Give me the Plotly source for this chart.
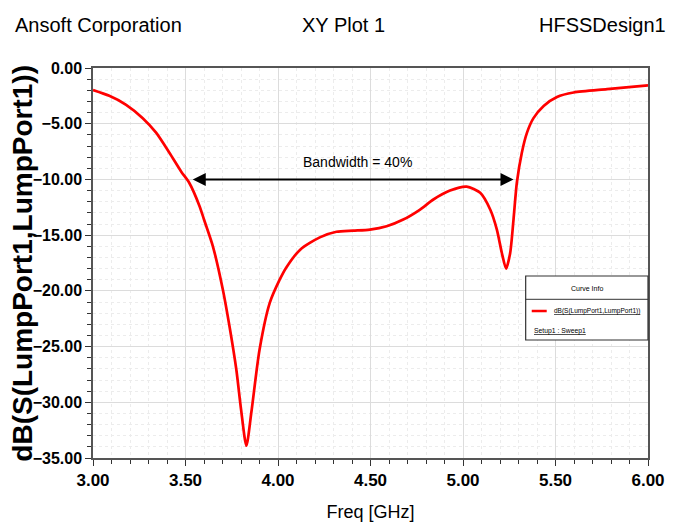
import plotly.graph_objects as go

# ---- data ----
freq_ghz = [3.000, 3.088, 3.179, 3.269, 3.341, 3.413, 3.477, 3.520, 3.576, 3.600,
            3.648, 3.702, 3.738, 3.775, 3.800, 3.829, 3.856, 3.900, 3.955, 4.009,
            4.045, 4.120, 4.226, 4.316, 4.406, 4.497, 4.587, 4.677, 4.768, 4.840,
            4.930, 5.020, 5.093, 5.147, 5.183, 5.210, 5.233, 5.255, 5.273, 5.291,
            5.318, 5.346, 5.381, 5.436, 5.508, 5.598, 5.779, 6.000]
s11_db = [-1.98, -2.5, -3.3, -4.5, -5.8, -7.6, -9.3, -10.3, -12.4, -13.6,
          -16.0, -19.9, -23.2, -27.1, -30.6, -33.9, -30.9, -25.3, -21.1, -19.0,
          -17.9, -16.3, -15.2, -14.7, -14.6, -14.5, -14.2, -13.6, -12.7, -11.8,
          -11.0, -10.65, -11.2, -12.7, -14.5, -16.6, -18.0, -16.6, -13.6, -10.3,
          -7.6, -5.8, -4.5, -3.4, -2.6, -2.2, -1.9, -1.56]

band_start = 3.531
band_end = 5.273
band_level = -10.0
band_label = "Bandwidth = 40%"

x_ticks = [3.0, 3.5, 4.0, 4.5, 5.0, 5.5, 6.0]
y_ticks = [0, -5, -10, -15, -20, -25, -30, -35]

x_title = "Freq [GHz]"
y_title = "dB(S(LumpPort1,LumpPort1))"

SANS = "Liberation Sans, Arial, sans-serif"

fig = go.Figure()
fig.add_trace(go.Scatter(
    x=freq_ghz, y=s11_db, mode="lines",
    line=dict(color="#ff0000", width=2.7, shape="spline", smoothing=0.7),
    name=y_title, showlegend=False,
    hoverinfo="x+y",
))

axis_common = dict(
    showline=True, linecolor="#555555", linewidth=1.5, mirror=True,
    ticks="outside", ticklen=6, tickwidth=1, tickcolor="#333333",
    showgrid=True, gridcolor="#dcdcdc", gridwidth=1,
    zeroline=False, tickformat=".2f", automargin=False,
)

fig.update_xaxes(
    range=[3.0, 6.0], tickvals=x_ticks,
    tickfont=dict(family=SANS, size=17, color="#000000", weight="bold"),
    minor=dict(dtick=0.1, ticks="outside", ticklen=4, tickcolor="#333333",
               showgrid=True, gridcolor="#ececec", griddash="dot"),
    title=dict(text=x_title, font=dict(family=SANS, size=18, color="#000000"),
               standoff=16),
    **axis_common,
)
fig.update_yaxes(
    range=[-35.0, 0.0], tickvals=y_ticks,
    tickfont=dict(family=SANS, size=16, color="#000000", weight="bold"),
    minor=dict(dtick=1, ticks="outside", ticklen=4, tickcolor="#333333",
               showgrid=True, gridcolor="#ececec", griddash="dot"),
    **axis_common,
)

# y-axis title, placed as rotated text so it can sit close to the tick labels
fig.add_annotation(
    x=-0.1285, y=0.5, xref="paper", yref="paper", text=y_title, textangle=-90,
    showarrow=False, xanchor="center", yanchor="middle", borderpad=0,
    font=dict(family=SANS, size=28, color="#000000", weight="bold"),
)

# bandwidth arrow (double headed) and label
fig.add_annotation(
    x=band_end, y=band_level, ax=band_start, ay=band_level,
    xref="x", yref="y", axref="x", ayref="y", text="",
    showarrow=True, arrowhead=2, startarrowhead=2, arrowside="end+start",
    arrowsize=1.3, startarrowsize=1.3, arrowwidth=2, arrowcolor="#000000",
)
fig.add_annotation(
    x=(band_start + band_end) / 2 + 0.03, y=band_level + 1.6, xref="x", yref="y",
    text=band_label, showarrow=False,
    font=dict(family=SANS, size=14, color="#000000"),
)

# header texts
header_font = dict(family=SANS, size=20, color="#000000")
fig.add_annotation(x=-0.144, y=1.11, xref="paper", yref="paper", text="Ansoft Corporation",
                   xanchor="left", yanchor="middle", showarrow=False, font=header_font)
fig.add_annotation(x=0.452, y=1.11, xref="paper", yref="paper", text="XY Plot 1",
                   xanchor="center", yanchor="middle", showarrow=False, font=header_font)
fig.add_annotation(x=1.036, y=1.11, xref="paper", yref="paper", text="HFSSDesign1",
                   xanchor="right", yanchor="middle", showarrow=False, font=header_font)

# "Curve Info" box
box_x0, box_x1, box_y0, box_y1 = 0.7796, 1.0, 0.3026, 0.4667
fig.add_shape(type="rect", xref="paper", yref="paper", x0=box_x0, x1=box_x1, y0=box_y0, y1=box_y1,
              line=dict(color="#333333", width=1.2), fillcolor="#ffffff", layer="above")
fig.add_shape(type="line", xref="paper", yref="paper", x0=box_x0, x1=box_x1, y0=0.4069, y1=0.4069,
              line=dict(color="#333333", width=1), layer="above")
fig.add_shape(type="line", xref="paper", yref="paper", x0=0.7905, x1=0.8175, y0=0.3769, y1=0.3769,
              line=dict(color="#ff0000", width=2.5), layer="above")
small = dict(family=SANS, size=6.5, color="#000000")
fig.add_annotation(x=0.8895, y=0.4351, xref="paper", yref="paper", text="Curve Info",
                   showarrow=False, xanchor="center", yanchor="middle",
                   font=dict(family=SANS, size=7, color="#000000"))
fig.add_annotation(x=0.8265, y=0.3769, xref="paper", yref="paper",
                   text="<u>" + y_title + "</u>",
                   showarrow=False, xanchor="left", yanchor="middle", font=small)
fig.add_annotation(x=0.7905, y=0.3264, xref="paper", yref="paper",
                   text="<u>Setup1 : Sweep1</u>",
                   showarrow=False, xanchor="left", yanchor="middle",
                   font=dict(family=SANS, size=6.8, color="#000000"))

# the page body adds an 8px offset, so margins are set to land the plot area
# at the same window position as the reference
fig.update_layout(
    width=681, height=528, autosize=False,
    margin=dict(l=85, r=41, t=60, b=78, pad=0),
    paper_bgcolor="#ffffff", plot_bgcolor="#ffffff",
    showlegend=False,
)

fig.write_html("out.html")
